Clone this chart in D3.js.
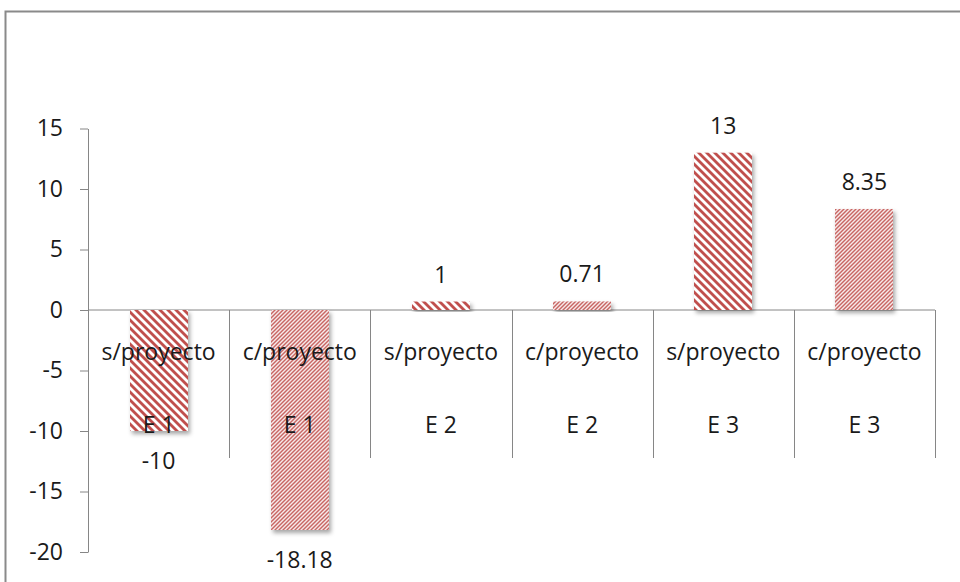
<!DOCTYPE html>
<html>
<head>
<meta charset="utf-8">
<script src="https://cdn.jsdelivr.net/npm/d3@7"></script>
<style>
  body { margin: 0; background: #fff; }
  svg text { font-family: "Open Sans", sans-serif; font-size: 23px; fill: #1a1a1a; }
</style>
</head>
<body>
<svg id="chart" width="960" height="582"></svg>
<script>
// Chart data
var categories = ["s/proyecto", "c/proyecto", "s/proyecto", "c/proyecto", "s/proyecto", "c/proyecto"];
var groups = ["E 1", "E 1", "E 2", "E 2", "E 3", "E 3"];
var values = [-10, -18.18, 0.7, 0.71, 13, 8.35];
var valueLabels = ["-10", "-18.18", "1", "0.71", "13", "8.35"];
var yTicks = [-20, -15, -10, -5, 0, 5, 10, 15];

var svg = d3.select("#chart");

// Outer frame (runs off the right and bottom of the picture)
svg.append("rect")
    .attr("x", 5.5).attr("y", 11.5)
    .attr("width", 1000).attr("height", 700)
    .attr("fill", "#fff")
    .attr("stroke", "#8a8a8a")
    .attr("stroke-width", 2);

var defs = svg.append("defs");

// stripe periods chosen so the horizontal repeat is a whole pixel count
var wideP = 8 / Math.SQRT2, narrowP = 4 / Math.SQRT2;

// Wide downward diagonal for s/proyecto
var wide = defs.append("pattern")
    .attr("id", "wide")
    .attr("patternUnits", "userSpaceOnUse")
    .attr("width", wideP).attr("height", 10)
    .attr("patternTransform", "rotate(-45)");
wide.append("rect").attr("width", wideP).attr("height", 10).attr("fill", "#fff");
wide.append("rect").attr("width", wideP / 2).attr("height", 10).attr("fill", "#c0504d");

// Narrow upward diagonal for c/proyecto
var narrow = defs.append("pattern")
    .attr("id", "narrow")
    .attr("patternUnits", "userSpaceOnUse")
    .attr("width", narrowP).attr("height", 10)
    .attr("patternTransform", "rotate(45)");
narrow.append("rect").attr("width", narrowP).attr("height", 10).attr("fill", "#fff");
narrow.append("rect").attr("width", narrowP / 2).attr("height", 10).attr("fill", "#c0504d");

var shadow = defs.append("filter")
    .attr("id", "shadow")
    .attr("x", "-20%").attr("y", "-20%")
    .attr("width", "140%").attr("height", "140%");
shadow.append("feDropShadow")
    .attr("dx", 2).attr("dy", 3)
    .attr("stdDeviation", 2)
    .attr("flood-color", "#000")
    .attr("flood-opacity", 0.35);

// Plot area
var plotLeft = 88, plotRight = 935, plotTop = 128.5, plotBottom = 552;

var xScale = d3.scaleBand()
    .domain(d3.range(values.length))
    .range([plotLeft, plotRight])
    .paddingInner(0.59)
    .paddingOuter(0.295);
var step = xScale.step();

var yScale = d3.scaleLinear()
    .domain([-20, 15])
    .range([plotBottom, plotTop]);

// Y axis (plain hyphen for negatives, as in the original)
var yAxisG = svg.append("g")
    .attr("transform", "translate(" + plotLeft + ",0)")
    .call(d3.axisLeft(yScale)
        .tickValues(yTicks)
        .tickFormat(function(d) { return String(d); })
        .tickSize(8).tickPadding(17).tickSizeOuter(0));
yAxisG.select(".domain").attr("stroke", "#868686");
yAxisG.selectAll(".tick line").attr("stroke", "#868686");
yAxisG.selectAll(".tick text").attr("fill", "#1a1a1a");
yAxisG.attr("font-family", null).attr("font-size", null);

// X axis line and category separators
var y0 = yScale(0);
svg.append("line")
    .attr("x1", plotLeft).attr("x2", plotRight)
    .attr("y1", y0).attr("y2", y0)
    .attr("stroke", "#868686");

svg.selectAll(".sep")
    .data(d3.range(1, values.length + 1))
    .enter()
    .append("line")
    .attr("class", "sep")
    .attr("x1", function(i) { return Math.round(plotLeft + step * i) + 0.5; })
    .attr("x2", function(i) { return Math.round(plotLeft + step * i) + 0.5; })
    .attr("y1", y0).attr("y2", 458)
    .attr("stroke", "#868686");

// Bars
svg.selectAll(".bar")
    .data(values)
    .enter()
    .append("rect")
    .attr("class", "bar")
    .attr("x", function(d, i) { return Math.round(xScale(i)); })
    .attr("width", Math.round(xScale.bandwidth()))
    .attr("y", function(d) { return yScale(Math.max(0, d)); })
    .attr("height", function(d) { return Math.abs(yScale(d) - yScale(0)); })
    .attr("fill", function(d, i) { return i % 2 == 0 ? "url(#wide)" : "url(#narrow)"; })
    .attr("filter", "url(#shadow)");

// Category labels (inner and outer level)
svg.selectAll(".cat")
    .data(categories)
    .enter()
    .append("text")
    .attr("class", "cat")
    .attr("x", function(d, i) { return xScale(i) + xScale.bandwidth() / 2; })
    .attr("y", 360)
    .attr("text-anchor", "middle")
    .text(function(d) { return d; });

svg.selectAll(".grp")
    .data(groups)
    .enter()
    .append("text")
    .attr("class", "grp")
    .attr("x", function(d, i) { return xScale(i) + xScale.bandwidth() / 2; })
    .attr("y", 433)
    .attr("text-anchor", "middle")
    .text(function(d) { return d; });

// Data labels
svg.selectAll(".val")
    .data(values)
    .enter()
    .append("text")
    .attr("class", "val")
    .attr("x", function(d, i) { return xScale(i) + xScale.bandwidth() / 2; })
    .attr("y", function(d) { return d >= 0 ? yScale(d) - 19 : yScale(d) + 38; })
    .attr("text-anchor", "middle")
    .text(function(d, i) { return valueLabels[i]; });
</script>
</body>
</html>
